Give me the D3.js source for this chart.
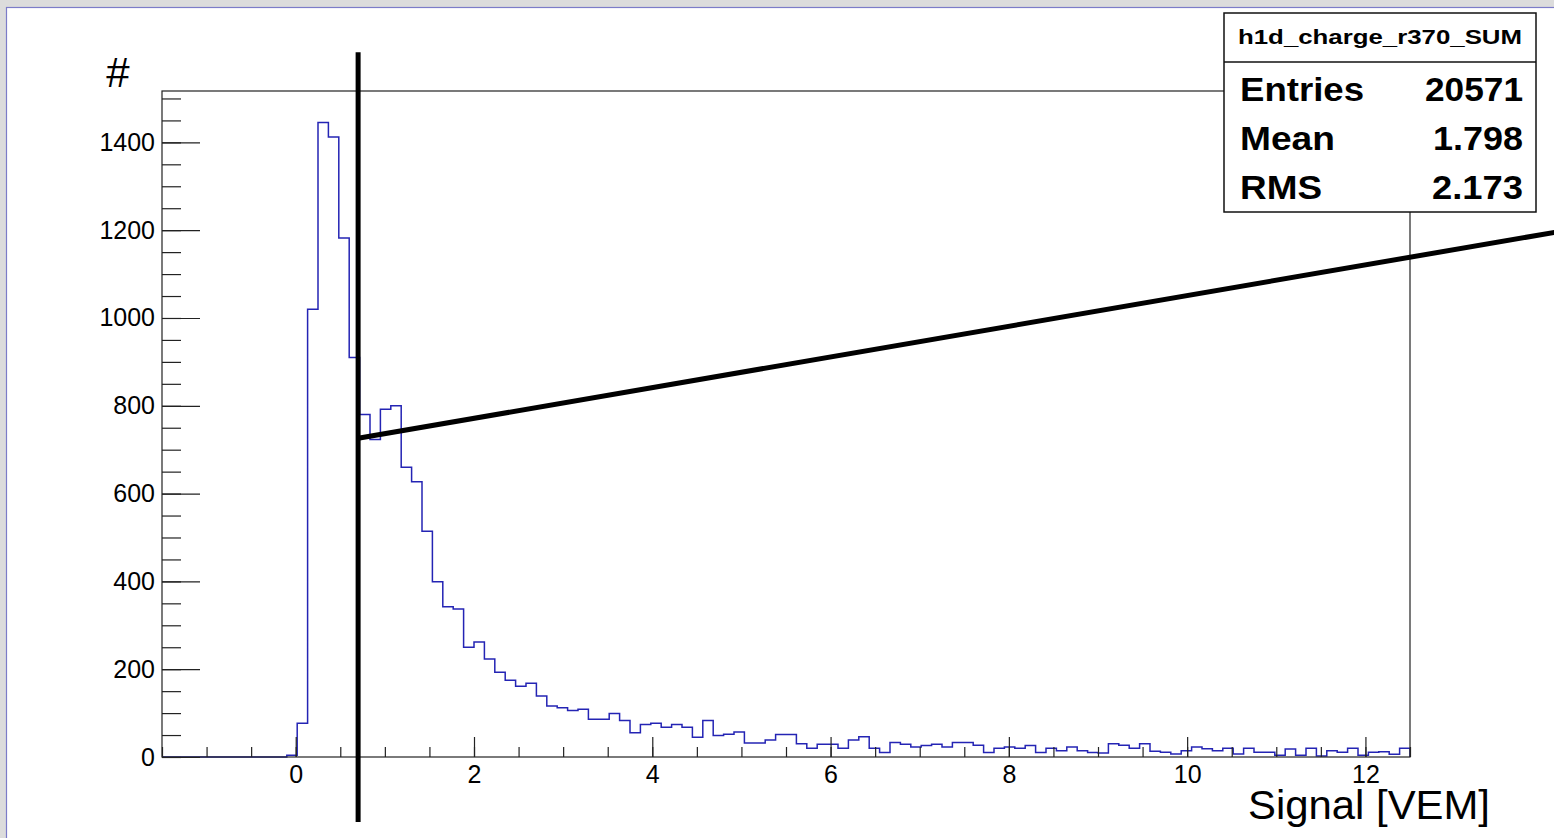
<!DOCTYPE html>
<html>
<head>
<meta charset="utf-8">
<script src="https://cdn.jsdelivr.net/npm/d3@7"></script>
<style>
  html, body { margin: 0; padding: 0; background: #dcdcdc; overflow: hidden; }
  svg { display: block; font-family: "Liberation Sans", Arial, Helvetica, sans-serif; }
</style>
</head>
<body>
<svg id="chart" width="1554" height="838"></svg>
<script>
// Histogram h1d_charge_r370_SUM: 120 bins from -1.5 to 12.5 VEM
const binLow = -1.5;
const binHigh = 12.5;
const binCount = 120;
const counts = [
  0, 0, 0, 0, 0, 0, 0, 0, 0, 0, 0, 0,
  4, 77, 1020, 1445, 1412, 1182, 910, 780, 723, 792, 800,
  660, 627, 514, 399, 342, 337, 250, 262,
  223, 193, 175, 161, 168, 139, 116, 112, 106, 109,
  86, 86, 99, 83, 55, 74, 77, 68, 74, 68,
  45, 83, 49, 52, 57, 32, 32, 39, 51, 51,
  30, 20, 29, 29, 20, 39, 46, 20, 10, 33,
  29, 23, 26, 29, 23, 33, 33, 27, 10, 20,
  23, 20, 26, 10, 20, 14, 23, 14, 10, 9,
  30, 27, 20, 30, 13, 11, 7, 14, 23, 19,
  14, 20, 7, 20, 11, 11, 4, 18, 4, 20,
  2, 14, 11, 20, 4, 11, 12, 6, 20
];

// Axis tick values
const xMajorTicks = [0, 2, 4, 6, 8, 10, 12];
const xMinorTicks = d3.range(-1.5, 12.51, 0.5);
const yMajorTicks = [0, 200, 400, 600, 800, 1000, 1200, 1400];
const yMinorTicks = d3.range(0, 1501, 50);
const yMax = 1517;

// Statistics box
const statsTitle = "h1d_charge_r370_SUM";
const statsLabels = ["Entries", "Mean", "RMS"];
const statsValues = ["20571", "1.798", "2.173"];

// Cut marker and guide line, in data units
const cutX = 0.7;
const cutYRange = [-148, 1605];
const guideStart = [0.7, 726];
const guideEnd = [14.12, 1195];

const svg = d3.select("#chart");
const FONT = "'Liberation Sans', Arial, Helvetica, sans-serif";

// Canvas frame
svg.append("rect").attr("x", 0).attr("y", 0).attr("width", 1554).attr("height", 838).attr("fill", "#dcdcdc");
svg.append("rect").attr("x", 6.5).attr("y", 7.5).attr("width", 1560).attr("height", 840)
  .attr("fill", "#ffffff").attr("stroke", "#7c7cc8").attr("stroke-width", 1.2);

const plot = { left: 162, right: 1410, top: 91, bottom: 757 };
const x = d3.scaleLinear().domain([binLow, binHigh]).range([plot.left, plot.right]);
const y = d3.scaleLinear().domain([0, yMax]).range([plot.bottom, plot.top]);

// Histogram outline (step line)
const binWidth = (binHigh - binLow) / binCount;
const pts = [[binLow, 0]];
counts.forEach((c, i) => pts.push([binLow + i * binWidth, c]));
pts.push([binHigh, counts[counts.length - 1]]);
pts.push([binHigh, 0]);
const step = d3.line().x(d => x(d[0])).y(d => y(d[1])).curve(d3.curveStepAfter);
svg.append("path").attr("d", step(pts))
  .attr("fill", "none").attr("stroke", "#2424b4").attr("stroke-width", 1.5);

// Plot frame
svg.append("rect").attr("x", plot.left).attr("y", plot.top)
  .attr("width", plot.right - plot.left).attr("height", plot.bottom - plot.top)
  .attr("fill", "none").attr("stroke", "#222").attr("stroke-width", 1.2);

// Y axis: major and minor ticks point into the frame
const yAxisMajor = d3.axisLeft(y).tickValues(yMajorTicks).tickFormat(d3.format("d"))
  .tickSizeInner(-38).tickSizeOuter(0).tickPadding(7);
const gy = svg.append("g").attr("transform", `translate(${plot.left},0)`).call(yAxisMajor);
const yAxisMinor = d3.axisLeft(y).tickValues(yMinorTicks).tickSizeInner(-19).tickSizeOuter(0).tickFormat("");
const gy2 = svg.append("g").attr("transform", `translate(${plot.left},0)`).call(yAxisMinor);

// X axis
const xAxisMajor = d3.axisBottom(x).tickValues(xMajorTicks).tickFormat(d3.format("d"))
  .tickSizeInner(-20).tickSizeOuter(0).tickPadding(9);
const gx = svg.append("g").attr("transform", `translate(0,${plot.bottom})`).call(xAxisMajor);
const xAxisMinor = d3.axisBottom(x).tickValues(xMinorTicks).tickSizeInner(-10).tickSizeOuter(0).tickFormat("");
const gx2 = svg.append("g").attr("transform", `translate(0,${plot.bottom})`).call(xAxisMinor);

[gy, gy2, gx, gx2].forEach(g => {
  g.select(".domain").remove();
  g.selectAll(".tick line").attr("stroke", "#222").attr("stroke-width", 1.2);
  g.selectAll(".tick text").attr("font-size", 25).attr("fill", "#000").attr("font-family", FONT);
});
gx.selectAll(".tick text").attr("dy", "0.66em");

// Axis titles
svg.append("text").attr("x", 118).attr("y", 87).attr("text-anchor", "middle")
  .attr("font-size", 42).attr("fill", "#000").text("#");
svg.append("text").attr("x", 1248).attr("y", 819)
  .attr("font-size", 41).attr("fill", "#000")
  .attr("textLength", 242).attr("lengthAdjust", "spacingAndGlyphs").text("Signal [VEM]");

// Cut marker and guide line
svg.append("line")
  .attr("x1", x(cutX)).attr("x2", x(cutX))
  .attr("y1", y(cutYRange[0])).attr("y2", y(cutYRange[1]))
  .attr("stroke", "#000").attr("stroke-width", 5);
svg.append("line")
  .attr("x1", x(guideStart[0])).attr("y1", y(guideStart[1]))
  .attr("x2", x(guideEnd[0])).attr("y2", y(guideEnd[1]))
  .attr("stroke", "#000").attr("stroke-width", 5);

// Statistics box
const box = { x: 1224, y: 13, w: 312, h: 199, sep: 62 };
const sb = svg.append("g");
sb.append("rect").attr("x", box.x).attr("y", box.y).attr("width", box.w).attr("height", box.h)
  .attr("fill", "#fff").attr("stroke", "#111").attr("stroke-width", 1.5);
sb.append("line").attr("x1", box.x).attr("x2", box.x + box.w).attr("y1", box.sep).attr("y2", box.sep)
  .attr("stroke", "#111").attr("stroke-width", 1.5);
sb.append("text").attr("x", 1238).attr("y", 44)
  .attr("font-size", 21).attr("font-weight", "bold").attr("textLength", 284)
  .attr("lengthAdjust", "spacingAndGlyphs").text(statsTitle);
const rowY = [101, 150, 199];
const labelWidths = [124, 95, 82];
const valueWidths = [98, 90, 91];
statsLabels.forEach((lab, i) => {
  sb.append("text").attr("x", 1240).attr("y", rowY[i]).attr("font-size", 34)
    .attr("font-weight", "bold").attr("textLength", labelWidths[i])
    .attr("lengthAdjust", "spacingAndGlyphs").text(lab);
  sb.append("text").attr("x", 1523 - valueWidths[i]).attr("y", rowY[i]).attr("font-size", 34)
    .attr("font-weight", "bold").attr("textLength", valueWidths[i])
    .attr("lengthAdjust", "spacingAndGlyphs").text(statsValues[i]);
});
</script>
</body>
</html>
